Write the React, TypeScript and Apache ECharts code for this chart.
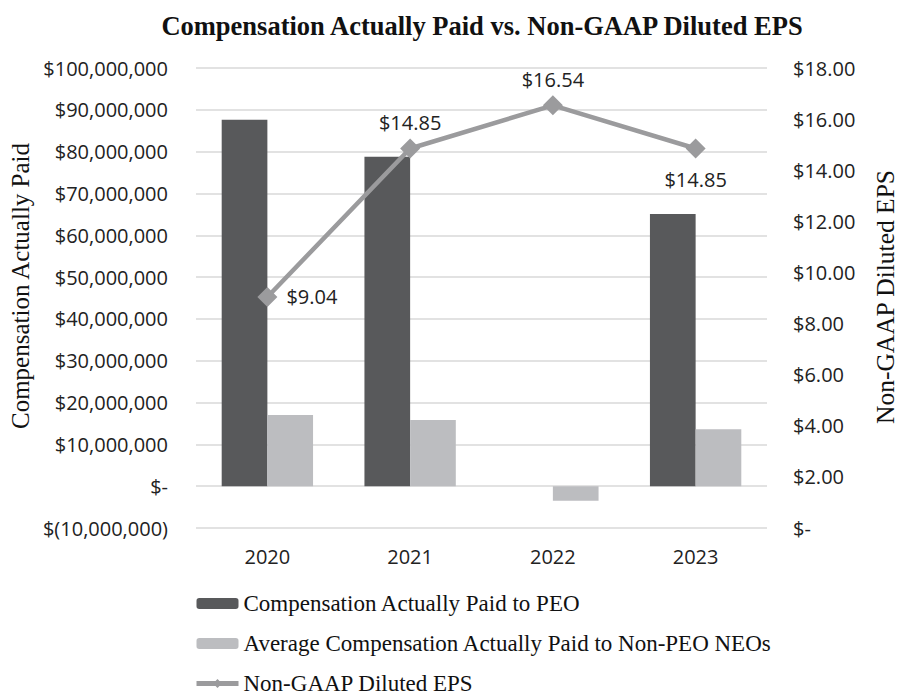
import React, { useEffect, useRef } from "react";
import * as echarts from "echarts";

const categories = ["2020", "2021", "2022", "2023"];
const peoCap = [87600000, 78800000, 0, 65100000];
const neoCap = [17000000, 15800000, -3500000, 13600000];
const eps = [9.04, 14.85, 16.54, 14.85];
const epsLabelPos = ["right", "top", "top", "bottom"];

const titleText = "Compensation Actually Paid vs. Non-GAAP Diluted EPS";
const leftAxisName = "Compensation Actually Paid";
const rightAxisName = "Non-GAAP Diluted EPS";
const seriesNames = [
  "Compensation Actually Paid to PEO",
  "Average Compensation Actually Paid to Non-PEO NEOs",
  "Non-GAAP Diluted EPS",
];

const fmtMoney = (v: number) => {
  if (v === 0) return "$-";
  const s = Math.abs(v).toLocaleString("en-US");
  return v < 0 ? `$(${s})` : `$${s}`;
};
const fmtEps = (v: number) => (v === 0 ? "$-" : `$${v.toFixed(2)}`);

const SANS = "'Open Sans', sans-serif";
const SERIF = "'Liberation Serif', 'Times New Roman', serif";

export default function App() {
  const ref = useRef<HTMLDivElement>(null);
  useEffect(() => {
    if (!ref.current) return;
    const chart = echarts.init(ref.current, null, { renderer: "svg" });
    chart.setOption({
      animation: false,
      backgroundColor: "#ffffff",
      grid: { left: 196, right: 138, top: 68, bottom: 168, containLabel: false },
      graphic: [
        {
          type: "text",
          x: 482,
          y: 26,
          style: {
            text: titleText,
            fontFamily: SERIF,
            fontWeight: "bold",
            fontSize: 26.5,
            fill: "#111",
            align: "center",
            verticalAlign: "middle",
          },
        },
        {
          type: "text",
          x: 20,
          y: 286,
          rotation: Math.PI / 2,
          style: {
            text: leftAxisName,
            fontFamily: SERIF,
            fontSize: 25,
            fill: "#111",
            align: "center",
            verticalAlign: "middle",
          },
        },
        {
          type: "text",
          x: 885,
          y: 297,
          rotation: Math.PI / 2,
          style: {
            text: rightAxisName,
            fontFamily: SERIF,
            fontSize: 25.5,
            fill: "#111",
            align: "center",
            verticalAlign: "middle",
          },
        },
      ],
      legend: {
        orient: "vertical",
        left: 194,
        top: 592,
        height: 104,
        padding: 0,
        itemWidth: 42,
        itemHeight: 11,
        itemGap: 17,
        textStyle: { fontFamily: SERIF, fontSize: 23, lineHeight: 23, color: "#111" },
        data: [
          { name: seriesNames[0] },
          { name: seriesNames[1] },
          { name: seriesNames[2], lineStyle: { width: 5 } },
        ],
      },
      xAxis: {
        type: "category",
        data: categories,
        axisLine: { show: false },
        axisTick: { show: false },
        axisLabel: { fontFamily: SANS, fontSize: 20, color: "#222", margin: 18 },
      },
      yAxis: [
        {
          type: "value",
          min: -10000000,
          max: 100000000,
          interval: 10000000,
          axisLine: { show: false },
          axisTick: { show: false },
          splitLine: { lineStyle: { color: "#d9d9d9", width: 1.5 } },
          axisLabel: {
            fontFamily: SANS,
            fontSize: 20,
            color: "#222",
            margin: 28,
            formatter: fmtMoney,
          },
        },
        {
          type: "value",
          min: 0,
          max: 18,
          interval: 2,
          axisLine: { show: false },
          axisTick: { show: false },
          splitLine: { show: false },
          axisLabel: {
            fontFamily: SANS,
            fontSize: 20,
            color: "#222",
            margin: 26,
            formatter: fmtEps,
          },
        },
      ],
      series: [
        {
          name: seriesNames[0],
          type: "bar",
          data: peoCap,
          yAxisIndex: 0,
          barGap: "0%",
          barCategoryGap: "36%",
          itemStyle: { color: "#58595b" },
        },
        {
          name: seriesNames[1],
          type: "bar",
          data: neoCap,
          yAxisIndex: 0,
          barGap: "0%",
          barCategoryGap: "36%",
          itemStyle: { color: "#bcbdc0" },
        },
        {
          name: seriesNames[2],
          type: "line",
          yAxisIndex: 1,
          data: eps.map((v, i) => ({
            value: v,
            label: {
              position: epsLabelPos[i],
              distance: epsLabelPos[i] === "bottom" ? 11 : epsLabelPos[i] === "right" ? 9 : 6,
            },
          })),
          symbol: "diamond",
          symbolSize: 20,
          lineStyle: { color: "#9b9b9d", width: 4.5 },
          itemStyle: { color: "#9b9b9d" },
          label: {
            show: true,
            fontFamily: SANS,
            fontSize: 20,
            color: "#222",
            formatter: (p: any) => fmtEps(p.value),
          },
          z: 5,
        },
      ],
    });
    return () => chart.dispose();
  }, []);
  return (
    <div
      ref={ref}
      style={{ position: "fixed", left: 0, top: 0, width: 905, height: 696 }}
    />
  );
}
